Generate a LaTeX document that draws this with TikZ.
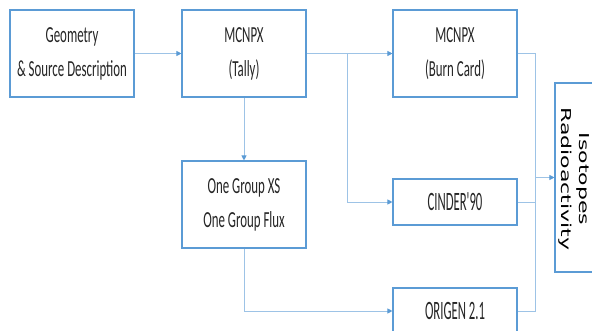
\documentclass[tikz,border=0pt]{standalone}
\usepackage{fontspec}
\usepackage{tikz}
\usetikzlibrary{arrows.meta,positioning}
\usepackage{xcolor}

\newfontfamily\boxfont[FakeStretch=0.56]{Carlito}
\newfontfamily\tagfont[FakeStretch=0.48]{Carlito}
\newfontfamily\sidefont{DejaVu Sans}
\definecolor{boxblue}{HTML}{5B9BD5}
\definecolor{lineblue}{HTML}{9DC3E6}

\tikzset{
    stage/.style={draw=boxblue, line width=1.1pt, fill=white, inner sep=0pt,
        minimum width=124pt, align=center, text=black!85},
    tall/.style={stage, minimum height=87pt, font=\boxfont\fontsize{23}{34}\selectfont},
    short/.style={stage, minimum height=46pt, font=\tagfont\fontsize{26.5}{30}\selectfont},
    wire/.style={draw=lineblue, line width=0.9pt},
    link/.style={wire, -{Triangle[length=5pt,width=5pt,color=boxblue]}}
}

\begin{document}
\begin{tikzpicture}[x=1pt, y=-1pt]
        \useasboundingbox (0,0) rectangle (592,331);

        % Top row
        \node[tall] (geom) at (72,53.5) {Geometry\\\& Source Description};
        \node[tall] (tally) at (244,53.5) {MCNPX\\(Tally)};
        \node[tall] (burn) at (455,53.5) {MCNPX\\(Burn Card)};

        % Middle and bottom
        \node[tall] (onegroup) at (244,204.5) {One Group XS\\One Group Flux};
        \node[short] (cinder) at (455,202) {CINDER'90};
        \node[short] (origen) at (455,311) {ORIGEN 2.1};

        % Output box, cut at the right edge
        \node[draw=boxblue, line width=1.1pt, minimum width=41pt, minimum height=189pt,
              inner sep=0pt] (iso) at (575.5,177.5) {};
        \node[rotate=-90, yscale=0.62, align=center, text=black,
              font=\sidefont\fontsize{22}{28}\selectfont] (isotext) at (574,179) {Isotopes\\Radioactivity};

        % Helper points
        \coordinate (split) at (347,53.5);
        \coordinate (join) at (535,177.5);

        % Connectors
        \draw[link] (geom) -- (tally);
        \draw[link] (tally) -- (burn);
        \draw[link] (split) |- (cinder.west);
        \draw[link] (tally) -- (onegroup);
        \draw[link] (onegroup) |- (origen.west);
        \draw[wire] (burn.east) -| (join);
        \draw[wire] (cinder.east) -| (join);
        \draw[wire] (origen.east) -| (join);
        \draw[link] (join) -- (iso);
    \end{tikzpicture}
\end{document}
